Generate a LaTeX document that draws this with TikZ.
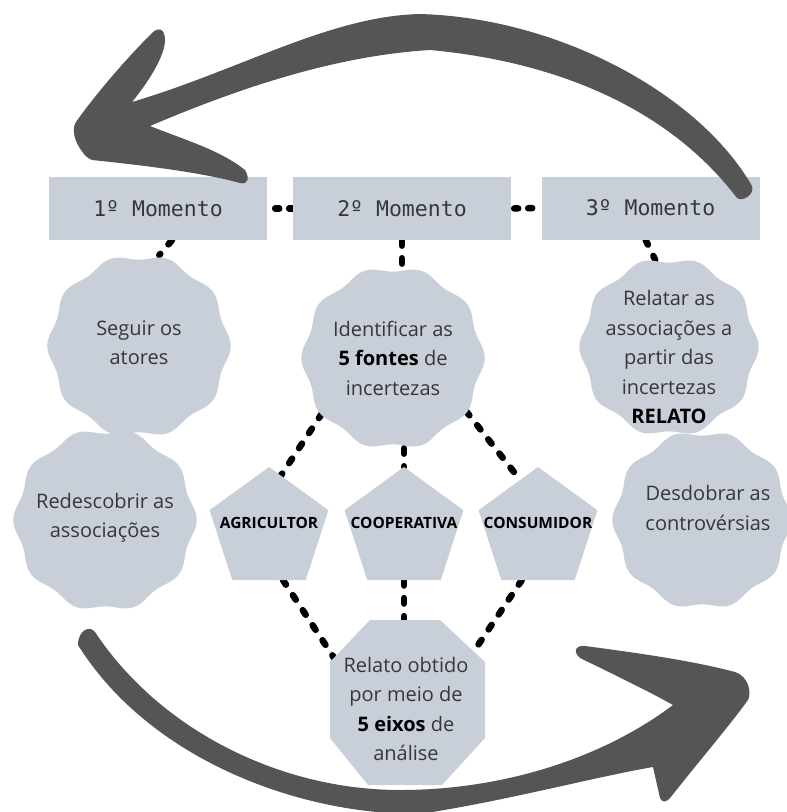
\documentclass[tikz,border=0pt]{standalone}
\usepackage{fontspec}
\setmainfont{Open Sans}
\newfontfamily\boxmono{DejaVu Sans Mono}
\usetikzlibrary{shapes.geometric,calc,backgrounds}
\definecolor{shapefill}{RGB}{200,207,217}
\definecolor{arrowgray}{RGB}{85,85,85}
\definecolor{txtgray}{RGB}{55,55,55}
\newcommand\wavyblob[3]{\fill[shapefill,shift={(#1,#2)}] plot[domain=0:357,samples=120,smooth cycle,variable=\t] (\t:{#3+2.7*cos(10*\t)});}
\begin{document}
\begin{tikzpicture}[x=1pt,y=-1pt,
  momentbox/.style={fill=shapefill,minimum width=218pt,minimum height=63pt,inner sep=0pt,font=\boxmono\fontsize{21.5}{24}\selectfont,text=txtgray},
  roundtext/.style={circle,minimum size=180pt,inner sep=0pt,align=center,font=\fontsize{20}{29.5}\selectfont,text=txtgray},
  plaintext/.style={inner sep=0pt,align=center,font=\fontsize{20}{29.5}\selectfont,text=txtgray},
  pent/.style={regular polygon,regular polygon sides=5,minimum size=125pt,inner sep=0pt,outer sep=0pt,fill=shapefill},
  penttext/.style={inner sep=0pt,font=\bfseries\fontsize{15.5}{18}\selectfont,text=black},
  link/.style={line width=6.5pt,line cap=round,dash pattern=on 5.5pt off 12.5pt},
  boxdots/.style={line width=6.5pt,line cap=round,dash pattern=on 4pt off 10pt},
  bigarrow/.style={fill=arrowgray}
]
\useasboundingbox (0,0) rectangle (787,812);

% moment boxes
\node[momentbox] (b1) at (158,208.5) {1º Momento};
\node[momentbox] (b2) at (402,208.5) {2º Momento};
\node[momentbox] (b3) at (650.5,208) {3º Momento};

% wavy blobs
\wavyblob{139}{346}{89}
\wavyblob{105}{520}{89}
\wavyblob{393}{358}{89}
\wavyblob{669}{347}{87}
\wavyblob{702}{520}{87}

\node[roundtext] (seg) at (139,343) {Seguir os\\atores};
\node[roundtext] (red) at (105,518) {Redescobrir as\\associações};
\node[roundtext] (ident) at (393,358) {Identificar as\\{\bfseries\color{black}5 fontes} de\\incertezas};
\node[circle,minimum size=176pt,inner sep=0pt] (relshape) at (669,347) {};
\node[plaintext] (reltext) at (669,357) {Relatar as\\associações a\\partir das\\incertezas\\{\bfseries\color{black}RELATO}};
\node[plaintext] (desd) at (708,508) {Desdobrar as\\controvérsias};

% pentagons
\node[pent] (agri) at (269,529.5) {};
\node[pent] (coop) at (404,529.5) {};
\node[pent] (cons) at (538,529.5) {};
\node[penttext] (agritext) at (269,523) {AGRICULTOR};
\node[penttext] (cooptext) at (404,523) {COOPERATIVA};
\node[penttext] (constext) at (538,523) {CONSUMIDOR};

% octagon
\coordinate (o1) at (370,620);
\coordinate (o2) at (440,620);
\coordinate (o3) at (485,662);
\coordinate (o4) at (485,738);
\coordinate (o5) at (442,785);
\coordinate (o6) at (368,785);
\coordinate (o7) at (330,738);
\coordinate (o8) at (330,662);
\fill[shapefill] (o1)--(o2)--(o3)--(o4)--(o5)--(o6)--(o7)--(o8)--cycle;
\node[plaintext] (oct) at (406,709) {Relato obtido\\por meio de\\{\bfseries\color{black}5 eixos} de\\análise};

% connectors
\begin{scope}[on background layer]
\draw[boxdots,dash phase=6pt] (b1.east) -- (b2.west);
\draw[boxdots,dash phase=11pt] (b2.east) -- (b3.west);
\draw[link] ([xshift=14pt]b1.south) -- (seg.77);
\draw[link] (b2.south) -- (b2.south |- ident.north);
\draw[link] ([xshift=-5pt]b3.south) -- (relshape.99);
\draw[link] (ident.218) -- ($(agri.corner 1)!0.2!(agri.corner 5)$);
\draw[link] (coop.north |- ident.south) -- (coop.north);
\draw[link] (ident.324) -- ($(cons.corner 1)!0.3!(cons.corner 2)$);
\draw[link] ($(agri.corner 3)!0.69!(agri.corner 4)$) -- ($(o8)!0.1!(o1)$);
\draw[link] (coop.side 3) -- (coop.side 3 |- o1);
\draw[link] ($(cons.corner 3)!0.28!(cons.corner 4)$) -- ($(o2)!0.75!(o3)$);
\end{scope}

% top arrow
\fill[bigarrow] (150,126) .. controls (230,92) and (330,56) .. (430,50)
 .. controls (560,62) and (670,110) .. (737,198)
 .. controls (742,202) and (755,195) .. (752,186)
 .. controls (700,95) and (560,18) .. (420,14)
 .. controls (330,16) and (240,70) .. (132,102)
 .. controls (150,80) and (165,55) .. (165,40)
 .. controls (165,28) and (158,27) .. (152,33)
 .. controls (125,60) and (95,95) .. (76,122)
 .. controls (72,128) and (74,138) .. (78,145)
 .. controls (82,152) and (86,158) .. (92,160)
 .. controls (140,165) and (200,172) .. (240,183)
 .. controls (248,185) and (250,178) .. (245,170)
 .. controls (220,150) and (185,140) .. (150,126) -- cycle;

% bottom arrow
\fill[bigarrow] (673,705) .. controls (600,760) and (500,790) .. (400,790)
 .. controls (280,790) and (160,730) .. (95,632)
 .. controls (90,625) and (78,630) .. (78,645)
 .. controls (150,760) and (300,815) .. (420,814)
 .. controls (510,800) and (590,778) .. (653,767)
 -- (660,798) .. controls (662,803) and (667,802) .. (670,798)
 .. controls (700,760) and (730,725) .. (748,700)
 .. controls (752,692) and (748,676) .. (735,672)
 .. controls (690,660) and (630,652) .. (585,646)
 .. controls (575,645) and (573,652) .. (580,658)
 .. controls (615,675) and (650,692) .. (673,705) -- cycle;
\end{tikzpicture}
\end{document}
